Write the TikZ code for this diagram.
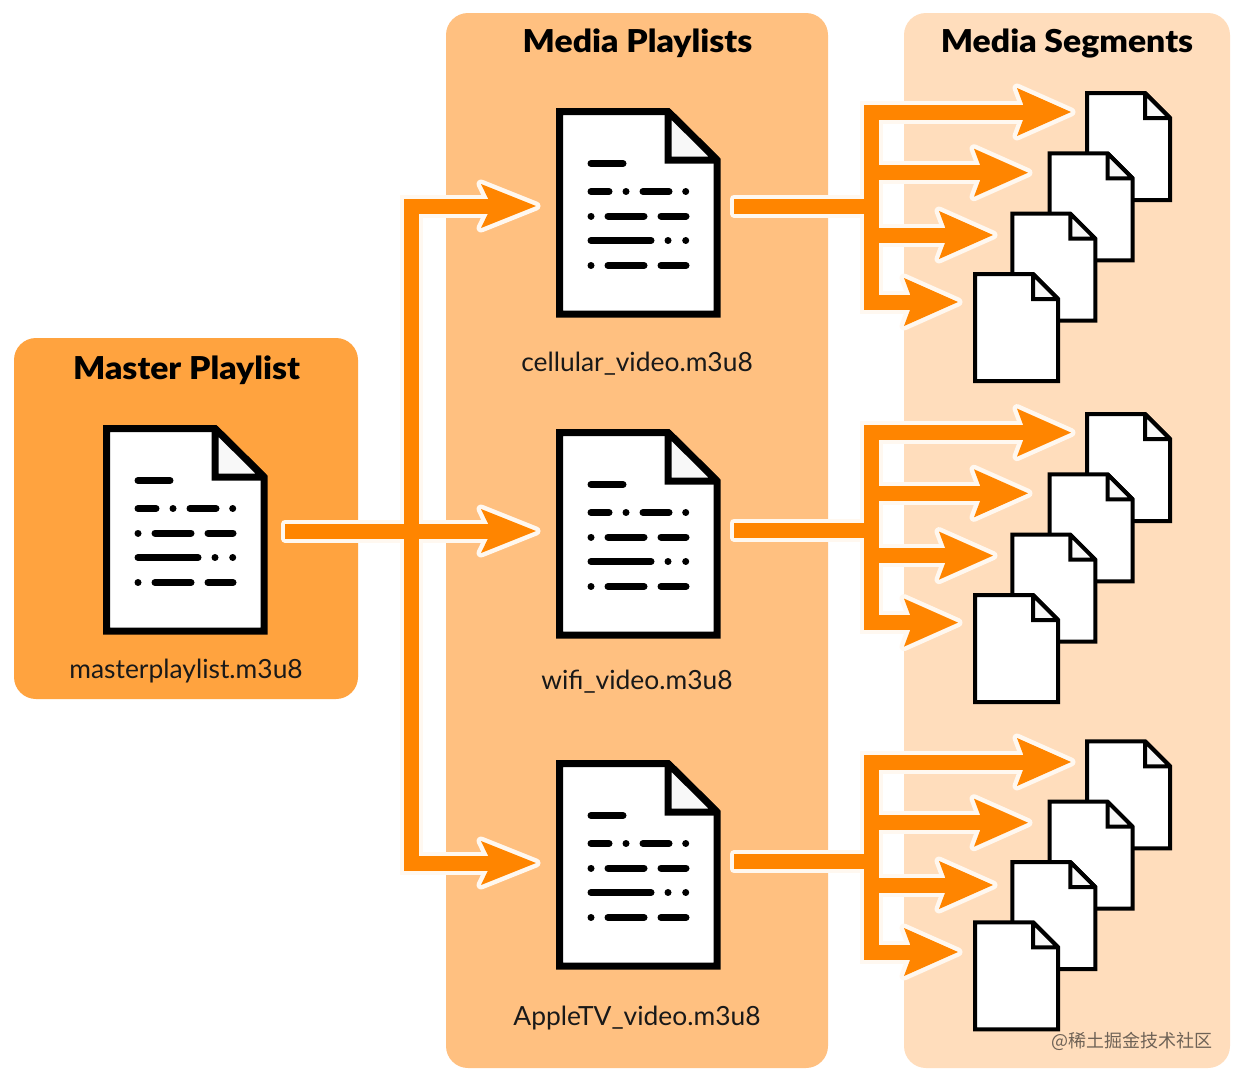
\documentclass[tikz,border=0pt]{standalone}
\usepackage{fontspec}
\setmainfont{Lato}
\newfontfamily\headfont{Lato}[UprightFont=* Black,BoldFont=* Black,FakeStretch=1.07]
\newfontfamily\cjkfont{Noto Sans CJK SC}
\definecolor{masterbg}{HTML}{FFA33F}
\definecolor{mediabg}{HTML}{FFC080}
\definecolor{segbg}{HTML}{FFDDBC}
\definecolor{flow}{HTML}{FF8500}
\definecolor{foldgrey}{HTML}{F8F8F8}
\definecolor{markgrey}{HTML}{6E6256}
\definecolor{halowhite}{HTML}{FFF8F0}
\tikzset{
  panel/.style={fill=#1,draw=none,rounded corners=22pt},
  pagebig/.style={draw=black,fill=white,line width=7pt,line join=miter,miter limit=1.5},
  foldbig/.style={draw=black,fill=foldgrey,line width=7pt,line join=miter,miter limit=1.5},
  pagesmall/.style={draw=black,fill=white,line width=4pt,line join=miter,miter limit=1.5},
  foldsmall/.style={draw=black,fill=foldgrey,line width=4pt,line join=miter,miter limit=1.5},
  textrow/.style={draw=black,line width=7pt,line cap=round},
  title/.style={font=\headfont\fontsize{31.5}{31.5}\selectfont,anchor=base,inner sep=0pt,text=black},
  filename/.style={font=\fontsize{26.4}{26.4}\selectfont,anchor=base,inner sep=0pt,text=black!90},
  halo/.style={draw=halowhite,line width=23pt,line join=miter},
  halohead/.style={draw=halowhite,fill=halowhite,line width=9pt,line join=round},
  halofeed/.style={draw=halowhite,fill=halowhite,line width=8pt,line join=round},
  flowline/.style={draw=flow,line width=15pt,line join=miter},
  flowhead/.style={fill=flow,draw=none},
}
% large document icon, origin at outer top-left corner
\newcommand{\bigdoc}[3]{%
  \begin{scope}[shift={(#2,#3)}]
    \coordinate (#1) at (0,0);
    \draw[pagebig] (3.5,3.5) -- (112,3.5) -- (161,52) -- (161,206) -- (3.5,206) -- cycle;
    \draw[foldbig] (112,3.5) -- (112,52) -- (161,52) -- cycle;
    \draw[textrow] (35,55.5) -- (67,55.5);
    \draw[textrow] (35,83.5) -- (53,83.5) (70,83.5) -- (70.01,83.5) (87,83.5) -- (113,83.5) (129.7,83.5) -- (129.71,83.5);
    \draw[textrow] (35,108) -- (35.01,108) (52,108) -- (88,108) (105,108) -- (130,108);
    \draw[textrow] (35,132.5) -- (95,132.5) (112,132.5) -- (112.01,132.5) (129.7,132.5) -- (129.71,132.5);
    \draw[textrow] (35,157.5) -- (35.01,157.5) (52,157.5) -- (88,157.5) (105,157.5) -- (130,157.5);
  \end{scope}}
% small document icon, origin at outer top-left corner
\newcommand{\smalldoc}[2]{%
  \begin{scope}[shift={(#1,#2)}]
    \draw[pagesmall] (2,2) -- (60,2) -- (85,27) -- (85,109) -- (2,109) -- cycle;
    \draw[foldsmall] (60,2) -- (60,27) -- (85,27) -- cycle;
  \end{scope}}
\newcommand{\segheadhalo}[1]{\path[halohead] (#1) -- ++(-54,-24) -- ++(6,16) -- ++(0,16) -- ++(-6,16) -- cycle;}
\newcommand{\seghead}[1]{\path[flowhead] (#1) -- ++(-54,-24) -- ++(6,16) -- ++(0,16) -- ++(-6,16) -- cycle;}
\newcommand{\mainheadhalo}[1]{\path[halohead] (#1) -- ++(-55,-22) -- ++(7,14.5) -- ++(0,15) -- ++(-7,14.5) -- cycle;}
\newcommand{\mainhead}[1]{\path[flowhead] (#1) -- ++(-55,-22) -- ++(7,14.5) -- ++(0,15) -- ++(-7,14.5) -- cycle;}
% arrow fan and stack of segments: name, arrow offset, feed offset, document offset
\newcommand{\segmentgroup}[4]{%
  \begin{scope}[shift={(0,#3)}]
    \coordinate (feed#1) at (734,206);
    \coordinate (hub#1) at (871,206);
  \end{scope}
  \begin{scope}[shift={(0,#2)}]
    \coordinate (topbend#1) at (871,112);
    \coordinate (botbend#1) at (871,302);
    \coordinate (midb#1) at (871,172.7);
    \coordinate (midc#1) at (871,235);
    \coordinate (tipa#1) at (1071,112);
    \coordinate (tipb#1) at (1028,172.7);
    \coordinate (tipc#1) at (993,235);
    \coordinate (tipd#1) at (958,302);
    \coordinate (enda#1) at (1027,112);
    \coordinate (endb#1) at (984,172.7);
    \coordinate (endc#1) at (949,235);
    \coordinate (endd#1) at (914,302);
    \draw[halofeed] ([yshift=-7.5pt]feed#1) rectangle ([yshift=7.5pt]hub#1);
    \draw[halo] (enda#1) -- (topbend#1) -- (botbend#1) -- (endd#1);
    \draw[halo] (midb#1) -- (endb#1);
    \draw[halo] (midc#1) -- (endc#1);
    \segheadhalo{tipa#1}\segheadhalo{tipb#1}\segheadhalo{tipc#1}\segheadhalo{tipd#1}
    \draw[flowline] (feed#1) -- (hub#1);
    \draw[flowline] (enda#1) -- (topbend#1) -- (botbend#1) -- (endd#1);
    \draw[flowline] (midb#1) -- (endb#1);
    \draw[flowline] (midc#1) -- (endc#1);
    \seghead{tipa#1}\seghead{tipb#1}\seghead{tipc#1}\seghead{tipd#1}
  \end{scope}
  \begin{scope}[shift={(0,#4)}]
    \smalldoc{1085}{91}
    \smalldoc{1047.6}{151.4}
    \smalldoc{1010.3}{211.7}
    \smalldoc{973}{272}
  \end{scope}}
\begin{document}
\begin{tikzpicture}[x=1pt,y=-1pt]
  \useasboundingbox (0,0) rectangle (1240,1080);
  \fill[white] (0,0) rectangle (1240,1080);
  % panels
  \path[panel=masterbg] (14,338) rectangle (358,699);
  \path[panel=mediabg] (446,13) rectangle (828,1068);
  \path[panel=segbg] (904,13) rectangle (1230,1068);
  % titles
  \node[title] (tmaster) at (186.5,379) {Master Playlist};
  \node[title] (tmedia) at (637.5,52) {Media Playlists};
  \node[title] (tseg) at (1067,52) {Media Segments};
  % main connector coordinates
  \coordinate (mfeed) at (285,531);
  \coordinate (mjoin) at (411,531);
  \coordinate (mtop) at (411,206);
  \coordinate (mbot) at (411,863);
  \coordinate (ma) at (493,206);
  \coordinate (mb) at (493,531);
  \coordinate (mc) at (493,863);
  \coordinate (ta) at (536,206);
  \coordinate (tb) at (536,531);
  \coordinate (tc) at (536,863);
  \draw[halofeed] ([yshift=-7.5pt]mfeed) rectangle ([yshift=7.5pt]mb);
  \draw[halo] (ma) -- (mtop) -- (mbot) -- (mc);
  \mainheadhalo{ta}\mainheadhalo{tb}\mainheadhalo{tc}
  \draw[flowline] (mfeed) -- (mb);
  \draw[flowline] (ma) -- (mtop) -- (mbot) -- (mc);
  \mainhead{ta}\mainhead{tb}\mainhead{tc}
  % segments
  \segmentgroup{A}{0}{0}{0}
  \segmentgroup{B}{320.6}{324}{321}
  \segmentgroup{C}{650}{655.7}{648.3}
  % documents
  \bigdoc{docM}{103}{425}
  \bigdoc{docA}{556}{108}
  \bigdoc{docB}{556}{429}
  \bigdoc{docC}{556}{760}
  % file names
  \node[filename] (fm) at (186,678) {masterplaylist.m3u8};
  \node[filename] (fa) at (637,371) {cellular\_video.m3u8};
  \node[filename] (fb) at (637,689) {wifi\_video.m3u8};
  \node[filename] (fc) at (637,1025) {AppleTV\_video.m3u8};
  % watermark
  \node[font=\cjkfont\fontsize{18}{18}\selectfont,text=markgrey,anchor=base,inner sep=0pt] (wm) at (1132,1047) {@稀土掘金技术社区};
\end{tikzpicture}
\end{document}
